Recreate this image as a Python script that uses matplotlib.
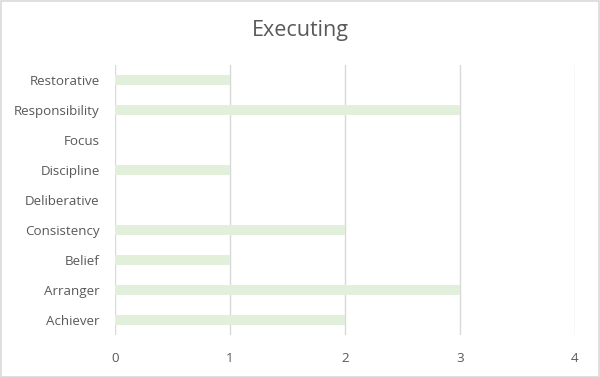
import matplotlib
matplotlib.use('Agg')
import matplotlib.pyplot as plt

# 棒グラフのデータ
labels = ['Achiever', 'Arranger', 'Belief', 'Consistency', 'Deliberative',
          'Discipline', 'Focus', 'Responsibility', 'Restorative']
values = [2, 3, 1, 2, 0, 1, 0, 3, 1]
xticks = [0, 1, 2, 3, 4]

plt.rcParams['font.family'] = ['Open Sans', 'DejaVu Sans']

fig = plt.figure(figsize=(6, 3.77), dpi=100)
ax = fig.add_axes([0.1917, 0.1114, 0.7666, 0.7162])

ax.barh(range(len(labels)), values, height=0.35, color='#e2efda', zorder=2)
ax.set_ylim(-0.5, len(labels) - 0.5)
ax.set_xlim(0, 4)
ax.set_xticks(xticks)
ax.set_yticks(range(len(labels)))
ax.set_yticklabels(labels)
ax.xaxis.grid(True, color='#d9d9d9', linewidth=1, zorder=0)
for s in ax.spines.values():
    s.set_visible(False)
ax.tick_params(length=0, colors='#595959', labelsize=9.6)
ax.tick_params(axis='x', pad=12)
ax.tick_params(axis='y', pad=11)

fig.text(0.5, 0.918, 'Executing', ha='center', va='center', fontsize=15.5, color='#595959')

# 外枠
fig.patches.append(plt.Rectangle((0.001, 0.001), 0.997, 0.997, transform=fig.transFigure,
                                 fill=False, edgecolor='#d9d9d9', linewidth=1.2))

fig.savefig('out.png', dpi=100)
